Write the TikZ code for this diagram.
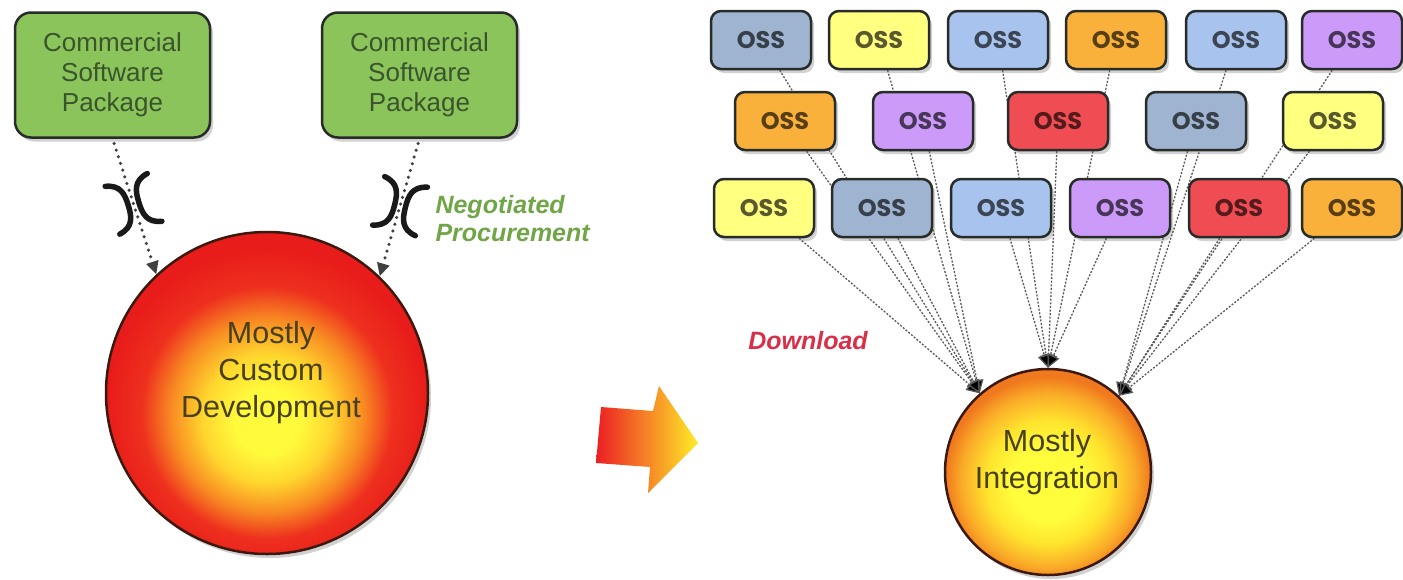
\documentclass[tikz,border=0pt]{standalone}
\usepackage{fontspec}
\setmainfont{Liberation Sans}
\newfontfamily\ossfont{Poppins}
\usetikzlibrary{arrows.meta,shadows,calc}
\pgfdeclarelayer{background}
\pgfsetlayers{background,main}
\definecolor{pkggreen}{RGB}{140,196,92}
\definecolor{pkgtext}{RGB}{58,84,44}
\definecolor{boxline}{RGB}{40,44,40}
\definecolor{circline}{RGB}{60,25,15}
\definecolor{neggreen}{RGB}{112,165,72}
\definecolor{dlred}{RGB}{217,48,74}
\definecolor{circtext}{RGB}{72,64,24}
\definecolor{sblue}{RGB}{158,180,208}
\definecolor{lblue}{RGB}{168,196,238}
\definecolor{yel}{RGB}{255,255,128}
\definecolor{org}{RGB}{249,177,60}
\definecolor{purp}{RGB}{204,155,250}
\definecolor{redb}{RGB}{240,76,84}
\definecolor{dy0}{RGB}{255,250,60}
\definecolor{dy1}{RGB}{255,214,46}
\definecolor{dy2}{RGB}{248,138,34}
\definecolor{dy3}{RGB}{238,48,30}
\definecolor{dy4}{RGB}{232,28,26}
\definecolor{iy0}{RGB}{255,252,60}
\definecolor{iy1}{RGB}{255,228,46}
\definecolor{iy2}{RGB}{250,172,40}
\definecolor{iy3}{RGB}{240,120,30}
\definecolor{arrred}{RGB}{236,30,36}
\definecolor{arrorange}{RGB}{247,160,50}
\definecolor{arryellow}{RGB}{255,236,40}
\pgfdeclareradialshading{devshade}{\pgfpoint{0bp}{-5bp}}{color(0bp)=(dy0);color(5bp)=(dy0);color(10bp)=(dy1);color(15bp)=(dy2);color(19.5bp)=(dy3);color(25bp)=(dy4);color(50bp)=(dy4)}
\pgfdeclareradialshading{intshade}{\pgfpoint{0bp}{-3.5bp}}{color(0bp)=(iy0);color(9bp)=(iy0);color(15bp)=(iy1);color(21bp)=(iy2);color(25bp)=(iy3);color(50bp)=(iy3)}
\begin{document}
\begin{tikzpicture}[x=1pt,y=-1pt,
  shadowed/.style={drop shadow={shadow xshift=3pt,shadow yshift=-4pt,opacity=0.3,fill=black!60}},
  pkg/.style={shadowed,draw=boxline,line width=2.5pt,rounded corners=16pt,fill=pkggreen,text=pkgtext,
    minimum width=195pt,minimum height=125pt,align=center,inner sep=0pt,font=\fontsize{26}{30}\selectfont},
  oss/.style={shadowed,draw=boxline,line width=2.5pt,rounded corners=10pt,fill=#1,text=#1!35!black,
    minimum width=100pt,minimum height=58pt,inner sep=0pt,font=\ossfont\bfseries\fontsize{24}{24}\selectfont},
  bigcirc/.style={shadowed,circle,draw=circline,line width=2.5pt,inner sep=0pt,shade,shading=#1},
  circtxt/.style={align=center,text=circtext},
  negarrow/.style={draw=black!75,line width=3.5pt,dash pattern=on 0pt off 7pt,line cap=round,
    shorten <=5pt,-{Triangle[width=12pt,length=13pt]}},
  ossarrow/.style={draw=black!65,line width=1.3pt,dash pattern=on 2pt off 1.6pt,
    -{Triangle[width=13pt,length=13pt,fill=black]}},
  bracketline/.style={line width=5.5pt,line cap=round,black!90},
  italbl/.style={font=\bfseries\itshape\fontsize{25}{28}\selectfont}
]
\useasboundingbox (0,0) rectangle (1403,579);

% left side
\node[pkg] (pkgA) at (112.5,75) {Commercial\\Software\\Package};
\node[pkg] (pkgB) at (419.5,75) {Commercial\\Software\\Package};
\node[bigcirc=devshade,minimum size=322pt] (dev) at (267,393) {};
\node[circtxt,font=\fontsize{30.5}{37}\selectfont] (devlbl) at (271,373) {Mostly\\Custom\\Development};

\draw[negarrow] (pkgA.south) -- (dev.133) coordinate[pos=0.48] (xa);
\draw[negarrow] (pkgB.south) -- (dev.46) coordinate[pos=0.49] (xb);

\begin{scope}[shift={(xa)},rotate=17]
  \draw[bracketline] (-22,-25) .. controls (-7,-22) and (-5.5,-12) .. (-5.5,0) .. controls (-5.5,12) and (-7,22) .. (-22,25);
  \draw[bracketline] (22,-25) .. controls (7,-22) and (5.5,-12) .. (5.5,0) .. controls (5.5,12) and (7,22) .. (22,25);
\end{scope}
\begin{scope}[shift={(xb)},rotate=-14]
  \draw[bracketline] (-22,-25) .. controls (-7,-22) and (-5.5,-12) .. (-5.5,0) .. controls (-5.5,12) and (-7,22) .. (-22,25);
  \draw[bracketline] (22,-25) .. controls (7,-22) and (5.5,-12) .. (5.5,0) .. controls (5.5,12) and (7,22) .. (22,25);
\end{scope}

\node[italbl,text=neggreen,anchor=west,align=left] (neg) at (432,219) {Negotiated\\Procurement};

% middle arrow
\shade[left color=arrred,middle color=arrorange,right color=arryellow]
  (601,407) -- (653,411) -- (659,386) -- (698,443) -- (648,493) -- (650,467) -- (596,463) -- cycle;

% right side
\node[oss=sblue] (o11) at (761,40) {OSS};
\node[oss=yel]   (o12) at (879,40) {OSS};
\node[oss=lblue] (o13) at (998,40) {OSS};
\node[oss=org]   (o14) at (1116,40) {OSS};
\node[oss=lblue] (o15) at (1236,40) {OSS};
\node[oss=purp]  (o16) at (1352,40) {OSS};

\node[oss=org]   (o21) at (785,121) {OSS};
\node[oss=purp]  (o22) at (923,121) {OSS};
\node[oss=redb]  (o23) at (1058,121) {OSS};
\node[oss=sblue] (o24) at (1196,121) {OSS};
\node[oss=yel]   (o25) at (1333,121) {OSS};

\node[oss=yel]   (o31) at (764,208) {OSS};
\node[oss=sblue] (o32) at (882,208) {OSS};
\node[oss=lblue] (o33) at (1001,208) {OSS};
\node[oss=purp]  (o34) at (1120,208) {OSS};
\node[oss=redb]  (o35) at (1239,208) {OSS};
\node[oss=org]   (o36) at (1352,208) {OSS};

\node[bigcirc=intshade,minimum size=206pt] (integ) at (1048,472) {};
\node[circtxt,font=\fontsize{30.5}{37}\selectfont] (intlbl) at (1047,462) {Mostly\\Integration};

\node[italbl,text=dlred] (dl) at (808,341) {Download};

\begin{pgfonlayer}{background}
  \foreach \s in {o11,o12,o21,o22,o31,o32} \draw[ossarrow] (\s) -- (integ.131);
  \foreach \s in {o13,o14,o23,o33,o34} \draw[ossarrow] (\s) -- (integ.90);
  \foreach \s in {o15,o16,o24,o25,o35,o36} \draw[ossarrow] (\s) -- (integ.47);
\end{pgfonlayer}
\end{tikzpicture}
\end{document}
